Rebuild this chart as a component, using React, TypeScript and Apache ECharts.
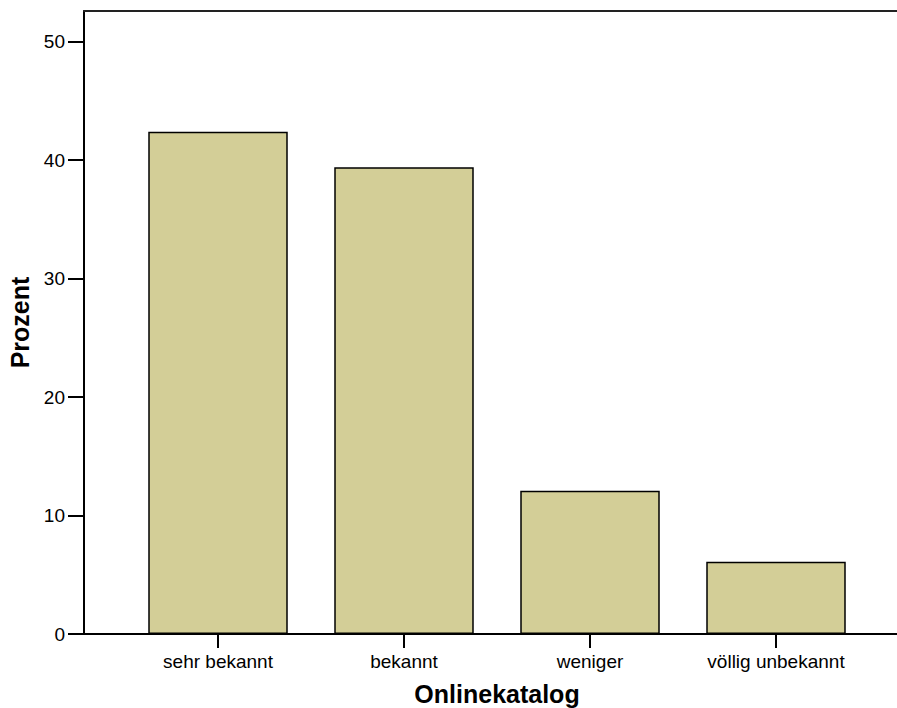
import React, { useEffect, useRef } from "react";
import * as echarts from "echarts";

const categories = ["sehr bekannt", "bekannt", "weniger", "völlig unbekannt"];
const percentValues = [42.4, 39.4, 12.1, 6.1];
const yTicks = [0, 10, 20, 30, 40, 50];
const xAxisTitle = "Onlinekatalog";
const yAxisTitle = "Prozent";

const Y_MAX = 52.6;
const FONT = "Arial, 'Liberation Sans', Helvetica, sans-serif";

export default function App() {
  const ref = useRef<HTMLDivElement>(null);

  useEffect(() => {
    if (!ref.current) return;
    const chart = echarts.init(ref.current, null, { renderer: "svg" });
    chart.setOption({
      animation: false,
      backgroundColor: "#ffffff",
      grid: [
        { left: 84, right: 0, top: 11, bottom: 74, containLabel: false, outerBoundsMode: "none" },
        { left: 125, right: 28, top: 11, bottom: 74, containLabel: false, outerBoundsMode: "none" },
      ],
      xAxis: [
        {
          gridIndex: 0,
          type: "value",
          min: 0,
          max: 1,
          position: "bottom",
          axisLine: { show: true, onZero: false, lineStyle: { color: "#000", width: 2 } },
          axisTick: { show: false },
          axisLabel: { show: false },
          splitLine: { show: false },
        },
        {
          gridIndex: 0,
          type: "value",
          min: 0,
          max: 1,
          position: "top",
          axisLine: { show: true, onZero: false, lineStyle: { color: "#222", width: 2 } },
          axisTick: { show: false },
          axisLabel: { show: false },
          splitLine: { show: false },
        },
        {
          gridIndex: 1,
          type: "category",
          data: categories,
          position: "bottom",
          axisLine: { show: false, onZero: false },
          axisTick: {
            show: true,
            alignWithLabel: true,
            length: 14,
            lineStyle: { color: "#000", width: 2 },
          },
          axisLabel: {
            color: "#000",
            fontFamily: FONT,
            fontSize: 19,
            margin: 18,
          },
          name: xAxisTitle,
          nameLocation: "middle",
          nameGap: 48,
          nameTextStyle: {
            color: "#000",
            fontFamily: FONT,
            fontSize: 25,
            lineHeight: 24,
            fontWeight: "bold",
          },
        },
      ],
      yAxis: [
        {
          gridIndex: 0,
          type: "value",
          min: 0,
          max: Y_MAX,
          interval: 10,
          axisLine: { show: true, onZero: false, lineStyle: { color: "#000", width: 2 } },
          axisTick: { show: true, length: 16, lineStyle: { color: "#000", width: 2 } },
          axisLabel: {
            color: "#000",
            fontFamily: FONT,
            fontSize: 19,
            margin: 19,
            showMaxLabel: false,
            formatter: (v: number) => (yTicks.includes(v) ? String(v) : ""),
          },
          splitLine: { show: false },
          name: yAxisTitle,
          nameLocation: "middle",
          nameGap: 51,
          nameRotate: 90,
          nameTextStyle: {
            color: "#000",
            fontFamily: FONT,
            fontSize: 25,
            fontWeight: "bold",
          },
        },
        {
          gridIndex: 1,
          type: "value",
          min: 0,
          max: Y_MAX,
          show: false,
        },
      ],
      series: [
        {
          type: "bar",
          xAxisIndex: 2,
          yAxisIndex: 1,
          data: percentValues,
          barWidth: "75%",
          itemStyle: {
            color: "#d3ce97",
            borderColor: "#000",
            borderWidth: 1.5,
          },
        },
      ],
    });
    return () => chart.dispose();
  }, []);

  return (
    <div
      ref={ref}
      style={{ position: "fixed", left: 0, top: 0, width: 897, height: 708 }}
    />
  );
}
